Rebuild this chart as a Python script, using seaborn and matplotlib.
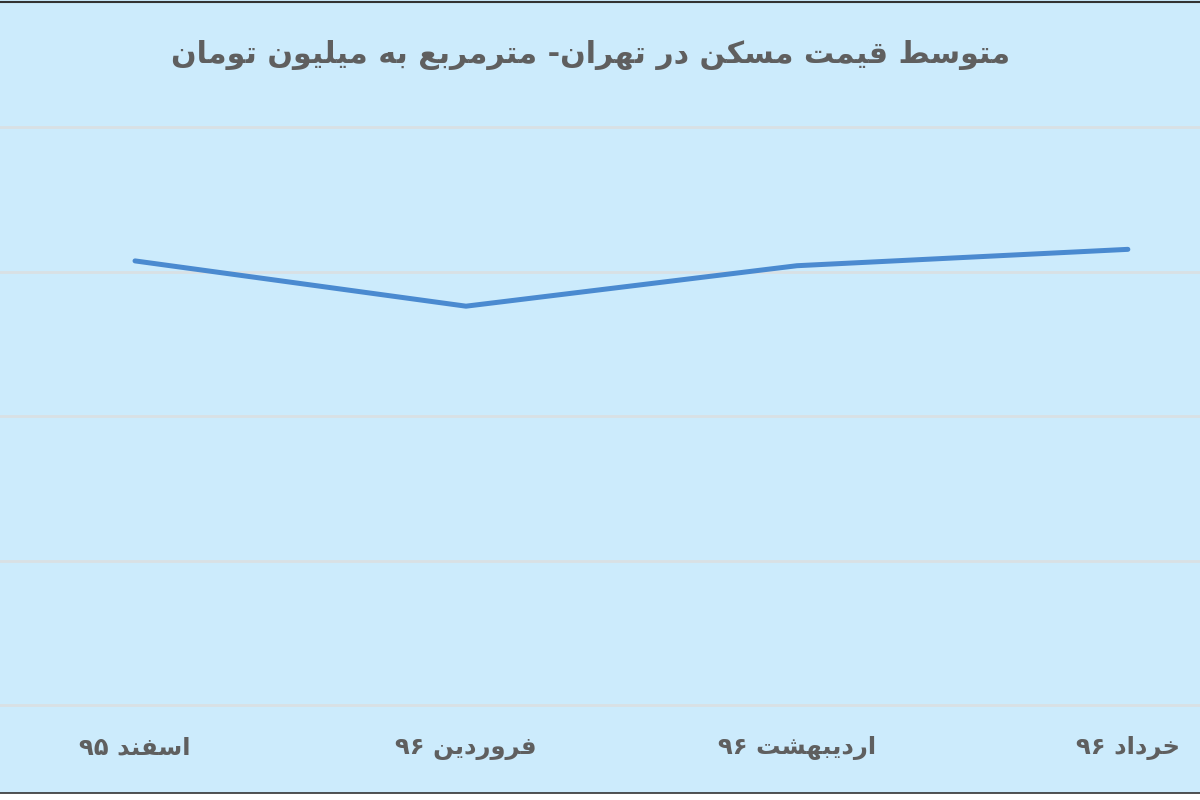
import matplotlib
matplotlib.use("Agg")
import matplotlib.pyplot as plt
import seaborn as sns
import pandas as pd
from matplotlib.lines import Line2D
from matplotlib.patches import Rectangle

# average price per square metre in Tehran (million toman)
months = ["اسفند ۹۵", "فروردین ۹۶", "اردیبهشت ۹۶", "خرداد ۹۶"]
prices = [4.61, 4.14, 4.56, 4.73]
title = "متوسط قیمت مسکن در تهران- مترمربع به میلیون تومان"

# matplotlib has no arabic shaping, so map letters to presentation forms
# (isolated, final, initial, medial); None = letter does not join to the next
FORMS = {
    "ا": ("\uFE8D", "\uFE8E", None, None),
    "ب": ("\uFE8F", "\uFE90", "\uFE91", "\uFE92"),
    "ت": ("\uFE95", "\uFE96", "\uFE97", "\uFE98"),
    "خ": ("\uFEA5", "\uFEA6", "\uFEA7", "\uFEA8"),
    "د": ("\uFEA9", "\uFEAA", None, None),
    "ر": ("\uFEAD", "\uFEAE", None, None),
    "س": ("\uFEB1", "\uFEB2", "\uFEB3", "\uFEB4"),
    "ش": ("\uFEB5", "\uFEB6", "\uFEB7", "\uFEB8"),
    "ط": ("\uFEC1", "\uFEC2", "\uFEC3", "\uFEC4"),
    "ع": ("\uFEC9", "\uFECA", "\uFECB", "\uFECC"),
    "ف": ("\uFED1", "\uFED2", "\uFED3", "\uFED4"),
    "ق": ("\uFED5", "\uFED6", "\uFED7", "\uFED8"),
    "ل": ("\uFEDD", "\uFEDE", "\uFEDF", "\uFEE0"),
    "م": ("\uFEE1", "\uFEE2", "\uFEE3", "\uFEE4"),
    "ن": ("\uFEE5", "\uFEE6", "\uFEE7", "\uFEE8"),
    "ه": ("\uFEE9", "\uFEEA", "\uFEEB", "\uFEEC"),
    "و": ("\uFEED", "\uFEEE", None, None),
    "ی": ("\uFBFC", "\uFBFD", "\uFBFE", "\uFBFF"),
    "ک": ("\uFB8E", "\uFB8F", "\uFB90", "\uFB91"),
}


def shape(s):
    out = []
    for i, ch in enumerate(s):
        if ch not in FORMS:
            out.append(ch)
            continue
        prev = s[i - 1] if i > 0 else ""
        nxt = s[i + 1] if i + 1 < len(s) else ""
        f = FORMS[ch]
        jp = prev in FORMS and FORMS[prev][2] is not None
        jn = f[2] is not None and nxt in FORMS
        if jp and jn:
            out.append(f[3])
        elif jp:
            out.append(f[1])
        elif jn:
            out.append(f[2])
        else:
            out.append(f[0])
    # reverse for visual order, keep digit runs left to right
    runs = []
    for ch in out:
        if ch.isdigit() and runs and runs[-1][-1].isdigit():
            runs[-1] += ch
        else:
            runs.append(ch)
    return "".join(reversed(runs))


bg = "#CCEBFC"
text_col = "#5F5F5F"

df = pd.DataFrame({"pos": range(len(months)), "price": prices})

sns.set_theme(style="white")
plt.rcParams["font.family"] = ["DejaVu Sans"]

fig = plt.figure(figsize=(12, 8), dpi=100, facecolor=bg)
ax = fig.add_axes([0, 0.11875, 1, 0.7225])
ax.set_facecolor(bg)

sns.lineplot(data=df, x="pos", y="price", ax=ax, color="#4A8AD0", linewidth=3.6)

ax.set_xlim(-0.408, 3.218)
ax.set_ylim(0, 6)
ax.set_yticks([0, 1.5, 3, 4.5, 6])
ax.set_yticklabels([])
ax.yaxis.grid(True, color="#D9E0E4", linewidth=2)
for gl in ax.get_ygridlines():
    gl.set_clip_on(False)
ax.set_xticks(df["pos"])
ax.set_xticklabels([shape(m) for m in months], fontsize=17.5, color=text_col,
                   fontweight="bold")
ax.tick_params(axis="x", length=0, pad=22)
ax.tick_params(axis="y", length=0)
ax.set_xlabel("")
ax.set_ylabel("")
for sp in ax.spines.values():
    sp.set_visible(False)

fig.text(0.492, 0.931, shape(title), ha="center", va="center", fontsize=21.6,
         fontweight="bold", color=text_col)

# thin dark frame lines at top and bottom of the screenshot
fig.add_artist(Rectangle((0, 0), 1, 7 / 800, transform=fig.transFigure,
                         facecolor="white", edgecolor="none"))
fig.add_artist(Line2D([0, 1], [7 / 800, 7 / 800], transform=fig.transFigure,
                      color="#333333", linewidth=1.2))
fig.add_artist(Line2D([0, 1], [1 - 1.5 / 800, 1 - 1.5 / 800],
                      transform=fig.transFigure, color="#333333", linewidth=1.5))

fig.savefig("out.png", dpi=100, facecolor=bg)
